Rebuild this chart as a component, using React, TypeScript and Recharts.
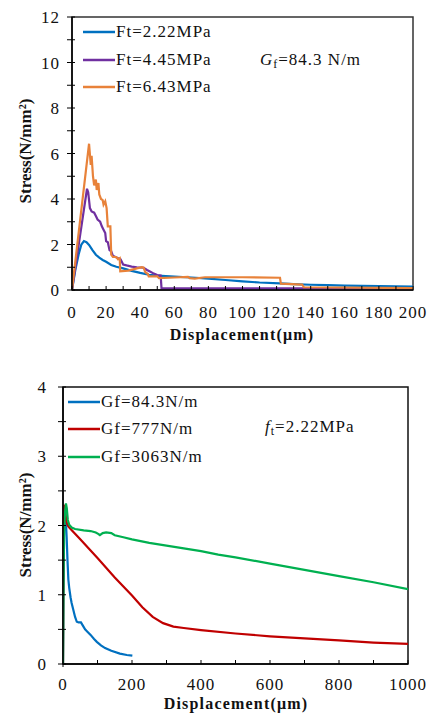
import { Line, LineChart, ReferenceArea, XAxis, YAxis } from "recharts";

// stress–displacement curves, [displacement µm, stress N/mm²]
const ft222: [number, number][] = [
  [0, 0], [2, 0.9], [4, 1.6], [5.5, 2.0], [7, 2.15], [8.5, 2.1], [10, 1.98],
  [12, 1.75], [14, 1.55], [16, 1.42], [18, 1.32], [20, 1.24], [23, 1.1],
  [26, 1.02], [30, 0.95], [35, 0.84], [40, 0.75], [45, 0.67], [50, 0.63],
  [60, 0.59], [70, 0.55], [80, 0.5], [90, 0.44], [100, 0.38], [110, 0.33],
  [122, 0.29], [130, 0.26], [140, 0.23], [150, 0.21], [160, 0.19],
  [180, 0.17], [200, 0.15],
];

const ft445: [number, number][] = [
  [0, 0], [8.8, 4.45], [9.5, 4.3], [10.5, 3.6], [11.5, 3.45], [13, 3.4],
  [14, 3.25], [15, 3.1], [16.5, 3.0], [17.5, 2.8], [18.5, 2.65], [19.5, 2.5],
  [20, 2.15], [21, 2.1], [22, 1.75], [23, 1.7], [24, 1.5], [25.5, 1.45],
  [27, 1.4], [28.5, 1.35], [30, 1.12], [32, 1.08], [35, 1.03], [38, 1.0],
  [42, 0.98], [44, 0.88], [46, 0.8], [48, 0.72], [50, 0.66], [52, 0.64],
  [52.5, 0.07], [200, 0.07],
];

const ft643: [number, number][] = [
  [0, 0], [10, 6.43], [11, 5.5], [11.5, 5.9], [12.3, 5.0], [13, 4.6],
  [14, 4.85], [14.5, 4.4], [15.5, 4.7], [16, 4.2], [17, 4.0], [18, 3.95],
  [18.5, 3.75], [19.5, 3.9], [20.3, 3.6], [21, 2.8], [22.5, 2.8], [23, 1.55],
  [24, 1.45], [26, 1.45], [27, 1.35], [28, 1.4], [28.3, 0.82], [33, 0.85],
  [38, 0.95], [41, 1.0], [42, 0.98], [43, 0.78], [44.5, 0.7], [45, 0.6],
  [50, 0.6], [51, 0.52], [60, 0.55], [68, 0.58], [69, 0.52], [72, 0.5],
  [78, 0.56], [100, 0.56], [122, 0.54], [122.5, 0.28], [135, 0.24],
  [136, 0.12], [200, 0.08],
];

const gf843: [number, number][] = [
  [0, 0], [1, 1.0], [2.5, 1.8], [4, 2.15], [6, 2.28], [8, 2.1], [10.5, 1.84],
  [13, 1.5], [15.5, 1.22], [18, 1.1], [22, 0.96], [25, 0.88], [30, 0.78],
  [35, 0.68], [40, 0.61], [45, 0.6], [52, 0.6], [58, 0.55], [64, 0.5],
  [70, 0.47], [80, 0.42], [90, 0.36], [98, 0.32], [110, 0.27], [122, 0.23],
  [140, 0.19], [165, 0.15], [185, 0.13], [201, 0.12],
];

const gf777: [number, number][] = [
  [0, 0], [1, 1.2], [2.5, 2.0], [4, 2.3], [6, 2.2], [10, 2.05], [15, 1.99],
  [20, 1.96], [50, 1.8], [100, 1.53], [150, 1.25], [200, 0.99], [230, 0.82],
  [260, 0.68], [290, 0.59], [320, 0.54], [350, 0.52], [400, 0.49],
  [500, 0.44], [600, 0.4], [700, 0.37], [800, 0.34], [900, 0.31],
  [1000, 0.29],
];

const gf3063: [number, number][] = [
  [0, 0], [1, 0.8], [2.5, 1.6], [4, 2.0], [6, 2.2], [8.5, 2.32], [11, 2.25],
  [14, 2.08], [18, 2.01], [25, 1.97], [35, 1.95], [60, 1.93], [80, 1.92],
  [95, 1.9], [102, 1.88], [107, 1.86], [115, 1.89], [125, 1.9], [140, 1.89],
  [150, 1.86], [175, 1.83], [200, 1.8], [250, 1.75], [300, 1.71],
  [350, 1.67], [400, 1.63], [450, 1.58], [500, 1.54], [600, 1.45],
  [700, 1.36], [800, 1.27], [900, 1.18], [1000, 1.08],
];

const topXTicks = Array.from({ length: 21 }, (_, i) => i * 10);
const topYTicks = Array.from({ length: 13 }, (_, i) => i);
const botXTicks = Array.from({ length: 11 }, (_, i) => i * 100);
const botYTicks = Array.from({ length: 9 }, (_, i) => i * 0.5);

const topSeries = [
  { name: "Ft=2.22MPa", data: ft222, color: "#0070C0" },
  { name: "Ft=4.45MPa", data: ft445, color: "#7030A0" },
  { name: "Ft=6.43MPa", data: ft643, color: "#E8823A" },
];

const botSeries = [
  { name: "Gf=84.3N/m", data: gf843, color: "#0070C0" },
  { name: "Gf=777N/m", data: gf777, color: "#C00000" },
  { name: "Gf=3063N/m", data: gf3063, color: "#00B050" },
];

const font = "'Liberation Serif', 'Times New Roman', serif";

function toRows(data: [number, number][]) {
  return data.map(([x, y]) => ({ x, y }));
}

function xTick(labelEvery: number, outside: boolean, offset: number) {
  return (props: any) => {
    const { x, y, payload } = props;
    const v = payload.value;
    const major = Math.abs(v % labelEvery) < 1e-6;
    return (
      <g>
        <line x1={x} x2={x} y1={y} y2={outside && v === 0 ? y + 3 : y - 4} stroke="#000" />
        {major && (
          <text x={x} y={y + offset} textAnchor="middle" fontSize={17} letterSpacing={1} fontFamily={font} fill="#111">
            {v}
          </text>
        )}
      </g>
    );
  };
}

function yTick(labelEvery: number, gap: number) {
  return (props: any) => {
    const { x, y, payload } = props;
    const v = payload.value;
    const major = Math.abs(v % labelEvery) < 1e-6;
    return (
      <g>
        <line x1={x - 5} x2={x + 3} y1={y} y2={y} stroke="#000" />
        {major && (
          <text x={x - gap} y={y + 6} textAnchor="end" fontSize={17} letterSpacing={1} fontFamily={font} fill="#111">
            {v}
          </text>
        )}
      </g>
    );
  };
}

function Legend({ items, x1, x2, ys }: { items: { name: string; color: string }[]; x1: number; x2: number; ys: number[] }) {
  return (
    <g>
      {items.map((s, i) => (
        <g key={s.name}>
          <line x1={x1} x2={x2} y1={ys[i] - 5} y2={ys[i] - 5} stroke={s.color} strokeWidth={2.5} />
          <text x={x2 + 1} y={ys[i]} fontSize={17} letterSpacing={1} fontFamily={font} fill="#111">
            {s.name}
          </text>
        </g>
      ))}
    </g>
  );
}

export default function App() {
  return (
    <div style={{ position: "absolute", left: 0, top: 0, width: 430, height: 713, background: "#fff" }}>
      <div style={{ position: "absolute", left: 0, top: 0 }}>
        <LineChart width={430} height={345} margin={{ top: 17, right: 17, bottom: 0, left: 0 }}>
          <XAxis
            type="number"
            dataKey="x"
            domain={[0, 200]}
            ticks={topXTicks}
            interval={0}
            height={55}
            tickSize={0}
            tickMargin={0}
            tickLine={false}
            tick={xTick(20, false, 28)}
            axisLine={{ stroke: "#000", strokeWidth: 1.5 }}
            allowDataOverflow
          />
          <YAxis
            type="number"
            dataKey="y"
            domain={[0, 12]}
            ticks={topYTicks}
            interval={0}
            width={72}
            tickSize={0}
            tickMargin={0}
            tickLine={false}
            tick={yTick(2, 12)}
            axisLine={{ stroke: "#000", strokeWidth: 1.5 }}
            allowDataOverflow
          />
          <ReferenceArea x1={0} x2={200} y1={0} y2={12} fill="none" stroke="#333" strokeWidth={1.5} />
          {topSeries.map((s) => (
            <Line
              key={s.name}
              data={toRows(s.data)}
              dataKey="y"
              type="linear"
              stroke={s.color}
              strokeWidth={2.2}
              dot={false}
              isAnimationActive={false}
            />
          ))}
        </LineChart>
      </div>
      <div style={{ position: "absolute", left: 0, top: 360 }}>
        <LineChart width={430} height={353} margin={{ top: 27, right: 22, bottom: 0, left: 0 }}>
          <XAxis
            type="number"
            dataKey="x"
            domain={[0, 1000]}
            ticks={botXTicks}
            interval={0}
            height={49}
            tickSize={0}
            tickMargin={0}
            tickLine={false}
            tick={xTick(200, true, 26)}
            axisLine={{ stroke: "#000", strokeWidth: 1.5 }}
            allowDataOverflow
          />
          <YAxis
            type="number"
            dataKey="y"
            domain={[0, 4]}
            ticks={botYTicks}
            interval={0}
            width={63}
            tickSize={0}
            tickMargin={0}
            tickLine={false}
            tick={yTick(1, 16)}
            axisLine={{ stroke: "#000", strokeWidth: 1.5 }}
            allowDataOverflow
          />
          <ReferenceArea x1={0} x2={1000} y1={0} y2={4} fill="none" stroke="#111" strokeWidth={1.5} />
          {botSeries.map((s) => (
            <Line
              key={s.name}
              data={toRows(s.data)}
              dataKey="y"
              type="linear"
              stroke={s.color}
              strokeWidth={2.2}
              dot={false}
              isAnimationActive={false}
            />
          ))}
        </LineChart>
      </div>
      <svg width={430} height={713} style={{ position: "absolute", left: 0, top: 0, pointerEvents: "none" }}>
        <Legend items={topSeries} x1={83} x2={115} ys={[37, 65, 92]} />
        <text x={260} y={65} fontSize={17} letterSpacing={1} fontFamily={font} fill="#111">
          <tspan fontStyle="italic">G</tspan>
          <tspan fontSize={12} dy={3}>f</tspan>
          <tspan dy={-3}>=84.3 N/m</tspan>
        </text>
        <text x={242} y={340} textAnchor="middle" fontSize={16} fontWeight="bold" letterSpacing={1.2} fontFamily={font} fill="#111">
          Displacement(μm)
        </text>
        <text transform="translate(31,151) rotate(-90)" textAnchor="middle" fontSize={17} fontWeight="bold" fontFamily={font} fill="#111">
          Stress(N/mm²)
        </text>

        <Legend items={botSeries} x1={68} x2={100} ys={[407, 434, 462]} />
        <text x={265} y={432} fontSize={17} letterSpacing={1} fontFamily={font} fill="#111">
          <tspan fontStyle="italic">f</tspan>
          <tspan fontSize={12} dy={3}>t</tspan>
          <tspan dy={-3}>=2.22MPa</tspan>
        </text>
        <text x={236} y={709} textAnchor="middle" fontSize={16} fontWeight="bold" letterSpacing={1.2} fontFamily={font} fill="#111">
          Displacement(μm)
        </text>
        <text transform="translate(31,525) rotate(-90)" textAnchor="middle" fontSize={17} fontWeight="bold" fontFamily={font} fill="#111">
          Stress(N/mm²)
        </text>
      </svg>
    </div>
  );
}
